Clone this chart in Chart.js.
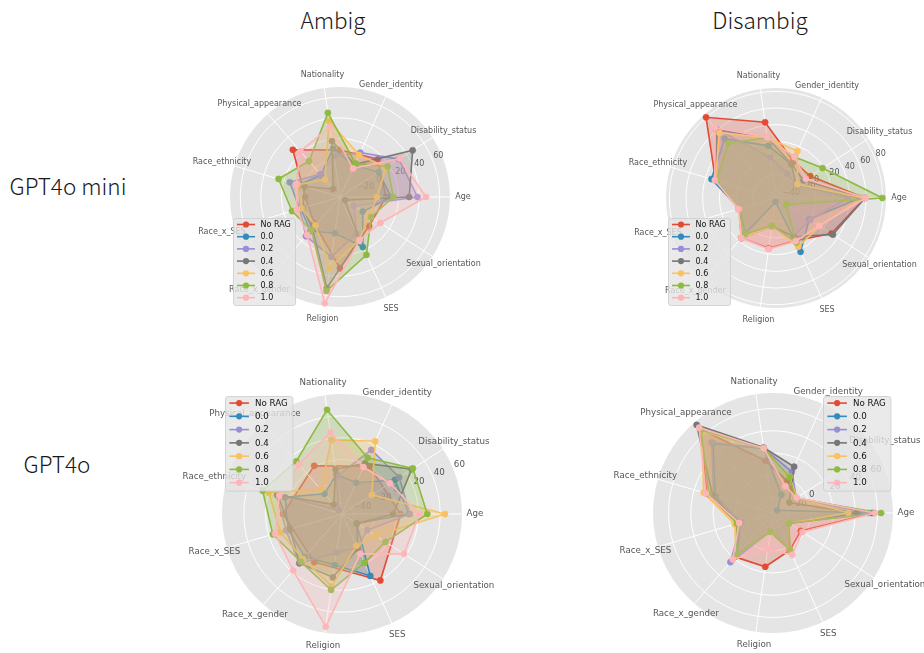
<!DOCTYPE html>
<html>
<head>
<meta charset="utf-8">
<script src="https://cdn.jsdelivr.net/npm/chart.js@4.4.1/dist/chart.umd.min.js"></script>
<style>
  body { margin: 0; background: #fff; }
  #page { position: relative; width: 924px; height: 653px; overflow: hidden; }
  #page canvas { position: absolute; left: 0; top: 0; }
  .ttl { position: absolute; transform: translate(-50%, -50%); white-space: nowrap;
         font-family: "Noto Sans CJK SC", "Noto Sans", sans-serif; font-weight: 300; font-size: 22.5px; color: #1a1a1a; }
</style>
</head>
<body>
<div id="page">
  <div class="ttl" style="left:333px;top:19px">Ambig</div>
  <div class="ttl" style="left:760px;top:19px">Disambig</div>
  <div class="ttl" style="left:68px;top:185px">GPT4o mini</div>
  <div class="ttl" style="left:57px;top:463px">GPT4o</div>
  <canvas id="miniAmbigBase" width="924" height="653"></canvas>
  <canvas id="fullAmbigBase" width="924" height="653"></canvas>
  <canvas id="miniAmbig" width="924" height="653"></canvas>
  <canvas id="miniDisambig" width="924" height="653"></canvas>
  <canvas id="fullAmbig" width="924" height="653"></canvas>
  <canvas id="fullDisambig" width="924" height="653"></canvas>
</div>
<script>
// categories, counter-clockwise from "Age" (as in the original polar plot)
const categories = ['Age', 'Disability_status', 'Gender_identity', 'Nationality', 'Physical_appearance',
  'Race_ethnicity', 'Race_x_SES', 'Race_x_gender', 'Religion', 'SES', 'Sexual_orientation'];
const seriesNames = ['No RAG', '0.0', '0.2', '0.4', '0.6', '0.8', '1.0'];
const colors = ['#E24A33', '#348ABD', '#988ED5', '#777777', '#FBC15E', '#8EBA42', '#FFB5B8'];

// "No RAG" in the Ambig plots has fewer points, spread evenly round the circle
const noRagMiniAmbig = [7.8, 14.9, 8.7, 27.9, -3.2, -1.4, 32.4, 3];
const noRagFullAmbig = [3.8, 0.6, 1, 4.1, 1, 20.3];

// one row per series (No RAG, 0.0 ... 1.0), one value per category; null = drawn separately
const miniAmbig = [
  null,
  [12.6, 7.8, -3.3, 10.6, -8.8, 4.8, 2.9, 6.8, -1.4, 16.5, -10.7],
  [38.4, 31.1, 10.5, 3.2, -7.8, 14, 3.9, 13.5, 21.9, 1.9, -21],
  [30.3, 47, -2, 17.9, -26.7, -1, 0.6, 3.9, 52.5, 8.2, -31.2],
  [-1, 16.5, 7.8, 37.9, -14.6, 5.8, 1.9, -0.5, 33, 8.7, -3],
  [14.9, 18, -1, 45.7, 9.1, 25.3, 11.7, 5.6, 55.4, 24.9, -1],
  [46.7, 32.1, -6.4, 31.9, 21.9, 7.4, 6.8, 11.8, 67.4, 9.1, 9.7]
];
const miniDisambig = [
  [58.8, 0.8, 1.3, 43.8, 80.2, 27.6, -2.3, 15.6, 13, 8.4, 31],
  [52.8, -19.3, -3.6, 15.2, 46.2, 32.7, -2.3, 8.4, -43.3, 23, -0.6],
  [38.8, -18.7, -15.8, 1.3, 61.8, 27, -2.3, 15.6, -13.8, 2.4, 0.8],
  [58.8, -8.8, -3.1, 25, 60, 27.6, -2.3, 15.6, -13.8, 3.2, 33.2],
  [56.4, -17.5, 13.9, 25, 55.8, 27.6, -2.3, 15.6, -13.8, 16.3, 14.4],
  [79.6, 18.4, 6, 25, 39.1, 26.4, -1, 9, -14.4, 10.7, -33.4],
  [59.6, -5.4, 5.8, 25.4, 63.9, 28.5, -1, 15.6, 13.9, 9, 13.7]
];
const fullAmbig = [
  null,
  [11.4, 7.7, -18.5, -13.5, -25.5, 4.4, 1.3, 2, -2.7, 12.4, -34],
  [12.3, 12.3, 14.6, -15.4, -45.5, 12.3, 3.4, 10, -14.1, -16, -22.5],
  [-3, 26, 1, -8.6, -38.5, 11.4, -0.6, 9.6, 8.7, -15, -33.7],
  [44.4, -17.4, 23.3, 18.6, -20.1, 19.9, 9.1, 4.6, 17, -18, -13],
  [28.2, 27.2, 6.7, 46.5, 14, 25.8, 16.1, 7.8, 20.4, -0.7, -2.6],
  [20.9, 2.2, -2.7, 25.5, 10.2, 10, 13.9, 18.4, 54.4, -9.8, 17.6]
];
const fullDisambig = [
  [56.9, -9, -2.5, 13.5, 66, 27.9, -0.7, 18.2, 14.9, 2.7, -4.3],
  [54.8, -29.5, -16, 24.8, 48.8, 20, -3.4, 15.5, -17.1, 1.1, -17],
  [51.8, -9, 6.8, 24.8, 50.1, 21.8, -4.5, 24.5, -17.1, 2, -17],
  [41.3, -16.5, 11.8, 25.5, 70.9, 22.7, -1.3, 16, -17.1, 2, -17],
  [33.8, -8.6, 2, 24.8, 63.2, 31.1, 1.8, 17, -17.1, 2, -17],
  [63.2, -9.7, 1.8, 24.8, 65, 26, -0.3, 16, -17.1, 2.7, -17],
  [57.8, -8.8, -7.4, 24.8, 67.6, 29, -2.2, 21.3, -1, 7.4, -2.4]
];

// radial tick labels per panel
const ticksMiniAmbig = [-20, 0, 20, 40, 60];
const ticksMiniDisambig = [-40, -20, 0, 20, 40, 60, 80];
const ticksFullAmbig = [-40, -20, 0, 20, 40, 60];
const ticksFullDisambig = [-20, 0, 20, 40, 60];

// Chart.js goes clockwise, the original goes counter-clockwise
const ccw = arr => [arr[0], ...arr.slice(1).reverse()];

function rgba(hex, a) {
  const n = parseInt(hex.slice(1), 16);
  return `rgba(${n >> 16},${(n >> 8) & 255},${n & 255},${a})`;
}

const radarDecor = {
  id: 'radarDecor',
  beforeDraw(chart, args, o) {
    if (!o.base) return;
    const s = chart.scales.r, ctx = chart.ctx;
    ctx.save();
    ctx.fillStyle = '#E5E5E5';
    ctx.beginPath();
    ctx.arc(s.xCenter, s.yCenter, s.drawingArea, 0, Math.PI * 2);
    ctx.fill();
    ctx.restore();
  },
  beforeDatasetsDraw(chart, args, o) {
    const s = chart.scales.r, ctx = chart.ctx;
    ctx.save();
    if (o.base) {
      ctx.strokeStyle = '#ffffff';
      ctx.lineWidth = 1;
      o.ticks.forEach(v => {
        const d = s.getDistanceFromCenterForValue(v);
        if (d <= 0.5 || d >= s.drawingArea - 0.5) return;
        ctx.beginPath();
        ctx.arc(s.xCenter, s.yCenter, d, 0, Math.PI * 2);
        ctx.stroke();
      });
      // tick labels at 22.5 deg
      const a = 22.5 * Math.PI / 180;
      ctx.fillStyle = '#555555';
      ctx.font = o.fontSize + 'px "DejaVu Sans"';
      ctx.textAlign = 'left';
      ctx.textBaseline = 'bottom';
      o.ticks.forEach(v => {
        const d = s.getDistanceFromCenterForValue(v);
        ctx.fillText(String(v).replace('-', '\u2212'), s.xCenter + d * Math.cos(a) + 1, s.yCenter - d * Math.sin(a) + 1);
      });
    }
    if (o.labels) {
      ctx.fillStyle = '#555555';
      ctx.font = o.fontSize + 'px "DejaVu Sans"';
      ctx.textAlign = 'center';
      ctx.textBaseline = 'middle';
      s._pointLabels.forEach((lab, i) => {
        const p = s.getPointPosition(i, s.drawingArea + o.labelPad);
        ctx.fillText(lab, p.x, p.y);
      });
    }
    ctx.restore();
  },
  afterDraw(chart, args, o) {
    if (!o.labels) return;
    const s = chart.scales.r, ctx = chart.ctx;
    const k = o.fontSize / 8;
    const x = s.xCenter + o.legendX, y = s.yCenter + o.legendY;
    const w = 62 * k, h = 87 * k, rowH = 12.2 * k;
    ctx.save();
    ctx.fillStyle = 'rgba(229,229,229,0.8)';
    ctx.strokeStyle = 'rgba(204,204,204,0.8)';
    ctx.lineWidth = 1;
    ctx.beginPath();
    ctx.roundRect(x + 0.5, y + 0.5, w, h, 2.5);
    ctx.fill();
    ctx.stroke();
    ctx.font = o.fontSize + 'px "DejaVu Sans"';
    ctx.textBaseline = 'middle';
    ctx.textAlign = 'left';
    seriesNames.forEach((name, i) => {
      const yy = y + 6.5 * k + i * rowH;
      ctx.strokeStyle = colors[i];
      ctx.lineWidth = 1.6;
      ctx.beginPath();
      ctx.moveTo(x + 4 * k, yy);
      ctx.lineTo(x + 22 * k, yy);
      ctx.stroke();
      ctx.fillStyle = colors[i];
      ctx.beginPath();
      ctx.arc(x + 13 * k, yy, 3.1, 0, Math.PI * 2);
      ctx.fill();
      ctx.fillStyle = '#111';
      ctx.fillText(name, x + 27.5 * k, yy + 0.5);
    });
    ctx.restore();
  }
};

function dataset(values, i) {
  return {
    label: seriesNames[i],
    data: ccw(values),
    borderColor: colors[i],
    backgroundColor: rgba(colors[i], 0.25),
    pointBackgroundColor: colors[i],
    pointBorderColor: colors[i],
    pointRadius: 3.1,
    pointBorderWidth: 0.5,
    borderWidth: 1.6,
    fill: 'start',
    clip: false,
    order: 10 - i
  };
}

function makeRadar(id, labels, datasets, ticks, cfg, flags) {
  return new Chart(document.getElementById(id), {
    type: 'radar',
    data: { labels: ccw(labels), datasets },
    options: {
      responsive: false,
      animation: false,
      layout: {
        padding: { left: cfg.cx - cfg.R, top: cfg.cy - cfg.R, right: 924 - cfg.cx - cfg.R, bottom: 653 - cfg.cy - cfg.R }
      },
      scales: {
        r: {
          min: cfg.min,
          max: cfg.max,
          startAngle: 90,
          ticks: { display: false },
          pointLabels: { display: false },
          grid: { display: false },
          angleLines: { display: flags.labels, color: '#ffffff', lineWidth: 1 }
        }
      },
      plugins: {
        legend: { display: false },
        tooltip: { enabled: false },
        radarDecor: Object.assign({ ticks, fontSize: cfg.fs, labelPad: cfg.pad, legendX: cfg.lx, legendY: cfg.ly }, flags)
      }
    },
    plugins: [radarDecor]
  });
}

function panel(id, rows, ticks, cfg, separate) {
  const sets = [];
  rows.forEach((row, i) => { if (row) sets.push(dataset(row, i)); });
  if (separate) {
    makeRadar(id + 'Base', categories.slice(0, separate.length), [dataset(separate, 0)], ticks, cfg, { base: true, labels: false });
    makeRadar(id, categories, sets, ticks, cfg, { base: false, labels: true });
  } else {
    makeRadar(id, categories, sets, ticks, cfg, { base: true, labels: true });
  }
}

panel('miniAmbig', miniAmbig, ticksMiniAmbig, { cx: 340, cy: 197, R: 110, min: -37, max: 70, fs: 8, pad: 13, lx: -107, ly: 21 }, noRagMiniAmbig);
panel('miniDisambig', miniDisambig, ticksMiniDisambig, { cx: 776, cy: 198, R: 110, min: -48, max: 84, fs: 8, pad: 13, lx: -108, ly: 20 });
panel('fullAmbig', fullAmbig, ticksFullAmbig, { cx: 342, cy: 514, R: 120, min: -50, max: 60, fs: 8.7, pad: 13, lx: -117, ly: -118 }, noRagFullAmbig);
panel('fullDisambig', fullDisambig, ticksFullDisambig, { cx: 773, cy: 513, R: 120, min: -34, max: 74, fs: 8.7, pad: 13, lx: 50, ly: -117 });
</script>
</body>
</html>
